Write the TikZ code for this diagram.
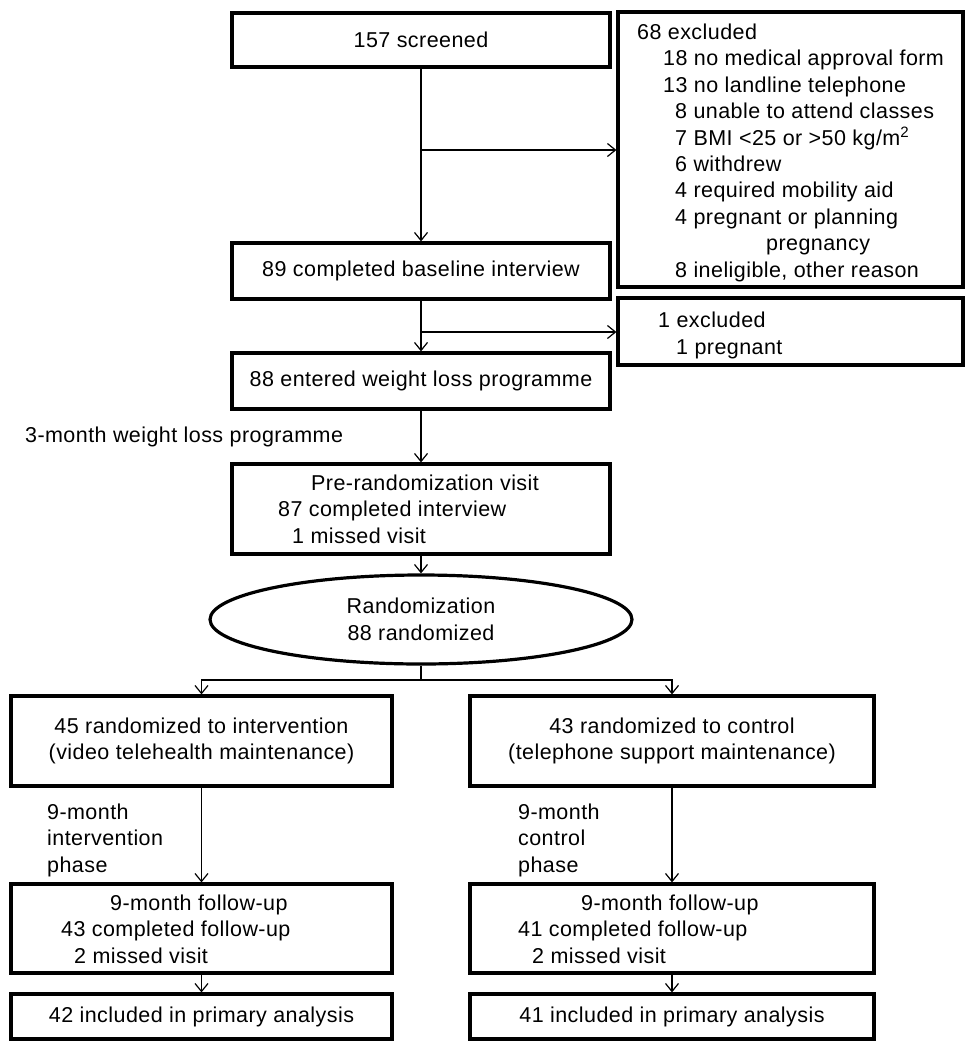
\documentclass[tikz,border=0pt]{standalone}
\usepackage{fontspec}
\setmainfont{Liberation Sans}[LetterSpace=2]
\usetikzlibrary{arrows.meta,shapes.geometric}
\newcommand\figfont{\fontsize{21.5}{26.4}\selectfont}
\begin{document}
\begin{tikzpicture}[x=1pt,y=-1pt,
  box/.style={draw, line width=3.2pt, inner sep=0pt, align=center, font=\figfont},
  oval/.style={draw, ellipse, line width=3.2pt, inner sep=0pt, align=center, font=\figfont},
  txt/.style={inner sep=0pt, font=\figfont, anchor=base west},
  conn/.style={line width=1.2pt, -{Straight Barb[length=8pt,width=13pt,line width=1.2pt]}},
  plain/.style={line width=1.2pt}]
\fill[white] (0,0) rectangle (973,1050);
\useasboundingbox (0,0) rectangle (973,1050);

% top column
\node[box, minimum width=378pt, minimum height=54pt] (scr) at (421,40) {157 screened};
\node[box, minimum width=378pt, minimum height=56pt] (base) at (421,271) {89 completed baseline interview};
\node[box, minimum width=378pt, minimum height=56pt] (ent) at (421,381) {88 entered weight loss programme};
\node[box, minimum width=378pt, minimum height=90pt] (pre) at (421,509) {};
\node[txt] (pre1) at (311,490.5) {Pre-randomization visit};
\node[txt] (pre2) at (278,516.9) {87 completed interview};
\node[txt] (pre3) at (292,543.3) {1 missed visit};
\node[oval, minimum width=422pt, minimum height=89pt] (rand) at (421,619.5) {Randomization\\88 randomized};

% exclusion boxes
\node[box, minimum width=345pt, minimum height=275pt] (exa) at (790.5,149.5) {};
\node[txt] (exa0) at (637,39.5) {68 excluded};
\node[txt] (exa1) at (663,65.9) {18 no medical approval form};
\node[txt] (exa2) at (663,92.3) {13 no landline telephone};
\node[txt] (exa3) at (675,118.7) {8 unable to attend classes};
\node[txt] (exa4) at (675,145.1) {7 BMI <25 or >50 kg/m\textsuperscript{2}};
\node[txt] (exa5) at (675,171.5) {6 withdrew};
\node[txt] (exa6) at (675,197.9) {4 required mobility aid};
\node[txt] (exa7) at (675,224.3) {4 pregnant or planning};
\node[txt] (exa8) at (766,250.7) {pregnancy};
\node[txt] (exa9) at (675,277.1) {8 ineligible, other reason};

\node[box, minimum width=345pt, minimum height=67pt] (exb) at (790.5,331.5) {};
\node[txt] (exb0) at (658,327.5) {1 excluded};
\node[txt] (exb1) at (676,354.5) {1 pregnant};

\node[txt] (lab3) at (25,442.5) {3-month weight loss programme};

% arms
\node[box, minimum width=381pt, minimum height=90pt] (armL) at (201.5,741) {45 randomized to intervention\\(video telehealth maintenance)};
\node[box, minimum width=404pt, minimum height=90pt] (armR) at (672,741) {43 randomized to control\\(telephone support maintenance)};

\node[txt] (labL1) at (47,819.5) {9-month};
\node[txt] (labL2) at (47,845.9) {intervention};
\node[txt] (labL3) at (47,872.3) {phase};
\node[txt] (labR1) at (518,819.5) {9-month};
\node[txt] (labR2) at (518,845.9) {control};
\node[txt] (labR3) at (518,872.3) {phase};

\node[box, minimum width=381pt, minimum height=89pt] (fuL) at (201.5,928.5) {};
\node[txt] (fuL1) at (110,910.5) {9-month follow-up};
\node[txt] (fuL2) at (61,936.9) {43 completed follow-up};
\node[txt] (fuL3) at (74,963.3) {2 missed visit};
\node[box, minimum width=404pt, minimum height=89pt] (fuR) at (672,928.5) {};
\node[txt] (fuR1) at (581,910.5) {9-month follow-up};
\node[txt] (fuR2) at (518,936.9) {41 completed follow-up};
\node[txt] (fuR3) at (532,963.3) {2 missed visit};

\node[box, minimum width=381pt, minimum height=45pt] (anL) at (201.5,1016.5) {42 included in primary analysis};
\node[box, minimum width=404pt, minimum height=45pt] (anR) at (672,1016.5) {41 included in primary analysis};

% connectors
\draw[conn] (scr) -- (base);
\coordinate (j1) at (421,150);
\draw[conn] (j1) -- (j1 -| exa.west);
\draw[conn] (base) -- (ent);
\coordinate (j2) at (421,332);
\draw[conn] (j2) -- (j2 -| exb.west);
\draw[conn] (ent) -- (pre);
\draw[conn] (pre) -- (rand);
\coordinate (j3) at (421,680);
\draw[plain] (rand.south) -- (j3);
\draw[conn] (j3) -| (armL.north);
\draw[conn] (j3) -| (armR.north);
\draw[conn] (armL) -- (fuL);
\draw[conn] (armR) -- (fuR);
\draw[conn] (fuL) -- (anL);
\draw[conn] (fuR) -- (anR);
\end{tikzpicture}
\end{document}
